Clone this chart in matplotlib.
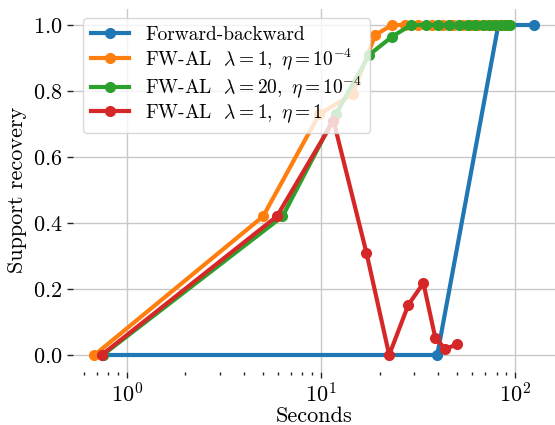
import matplotlib
matplotlib.use("Agg")
import matplotlib.pyplot as plt

plt.rcParams.update({
    "font.family": "serif",
    "font.serif": ["cmr10"],
    "mathtext.fontset": "cm",
    "axes.formatter.use_mathtext": True,
    "axes.unicode_minus": False,
})

fb_x = [0.75, 39.6, 81.7, 125.0]
fb_y = [0.0, 0.0, 1.0, 1.0]

o_x = [0.68, 5.02, 9.77, 14.5, 19.0, 23.2, 27.0, 31.5, 37.0, 42.5, 48.0, 53.5, 59.0, 64.5, 70.0, 75.5, 81.0, 86.5, 92.0]
o_y = [0.0, 0.42, 0.73, 0.79, 0.97, 1.0, 1.0, 1.0, 1.0, 1.0, 1.0, 1.0, 1.0, 1.0, 1.0, 1.0, 1.0, 1.0, 1.0]

g_x = [0.75, 6.32, 11.9, 17.7, 23.2, 29.0, 34.6, 40.1, 45.7, 51.0, 56.8, 62.2, 67.8, 73.4, 78.9, 84.4, 89.5, 93.5]
g_y = [0.0, 0.42, 0.73, 0.91, 0.965, 1.0, 1.0, 1.0, 1.0, 1.0, 1.0, 1.0, 1.0, 1.0, 1.0, 1.0, 1.0, 1.0]

r_x = [0.74, 5.91, 11.57, 17.1, 22.4, 28.1, 33.6, 38.7, 43.6, 50.2]
r_y = [0.0, 0.42, 0.71, 0.31, 0.0, 0.152, 0.218, 0.052, 0.018, 0.033]

labels = [
    "Forward-backward",
    r"FW-AL  $\lambda=1,\ \eta=10^{-4}$",
    r"FW-AL  $\lambda=20,\ \eta=10^{-4}$",
    r"FW-AL  $\lambda=1,\ \eta=1$",
]
colors = ["#1f77b4", "#ff7f0e", "#2ca02c", "#d62728"]

fig = plt.figure(figsize=(5.55, 4.25), dpi=100)
ax = fig.add_axes([73/555, 1 - 371.5/425, (555-73)/555, (371.5-8.5)/425])

for xs, ys, c, lab in zip([fb_x, o_x, g_x, r_x], [fb_y, o_y, g_y, r_y], colors, labels):
    ax.plot(xs, ys, "-o", color=c, lw=3, ms=7, label=lab)

ax.set_xscale("log")
ax.set_xlim(0.527, 160)
ax.set_ylim(-0.05, 1.05)
ax.set_yticks([0.0, 0.2, 0.4, 0.6, 0.8, 1.0])
ax.grid(True, which="major", color="#c8c8c8", lw=1)
for s in ax.spines.values():
    s.set_visible(False)
ax.tick_params(axis="both", which="major", labelsize=16, length=4, width=1, color="#222222")
ax.tick_params(axis="x", which="minor", length=2, width=1, color="#222222")
ax.set_xlabel("Seconds", fontsize=16, labelpad=0)
ax.set_ylabel("Support recovery", fontsize=16)
ax.legend(loc="upper left", fontsize=14, framealpha=0.8, edgecolor="#d0d0d0",
          handlelength=2.0, labelspacing=0.12)

fig.savefig("out.png", dpi=100)
